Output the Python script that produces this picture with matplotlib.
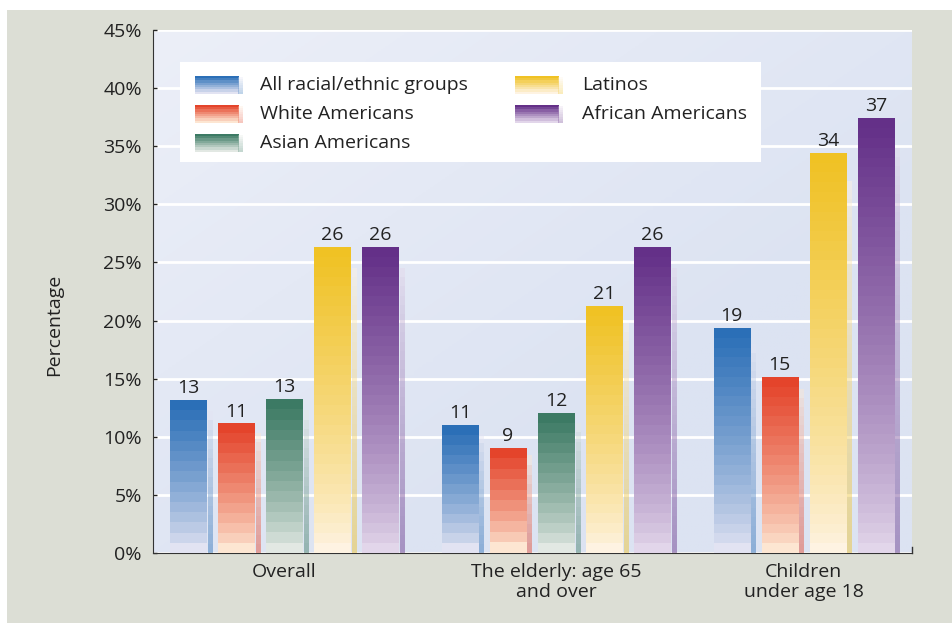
import numpy as np
import matplotlib.pyplot as plt
from matplotlib.colors import LinearSegmentedColormap
from matplotlib.patches import Rectangle

plt.rcParams['font.family'] = ['Open Sans', 'DejaVu Sans']

groups = ['Overall', 'The elderly: age 65\nand over', 'Children\nunder age 18']
series = ['All racial/ethnic groups', 'White Americans', 'Asian Americans',
          'Latinos', 'African Americans']
overall = [13.1, 11.1, 13.2, 26.3, 26.3]
elderly = [11.0, 9.0, 12.0, 21.2, 26.3]
children = [19.3, 15.1, np.nan, 34.4, 37.4]
yticks = [0, 5, 10, 15, 20, 25, 30, 35, 40, 45]

# top colour, pale bottom colour for each series
tops = ['#2b6fb7', '#e4442b', '#3c7a64', '#f0c224', '#643088']
pales = ['#e2e3f2', '#fde6d2', '#e2e8e3', '#fef3e2', '#e2d6ea']

fig = plt.figure(figsize=(9.52, 6.23), dpi=100, facecolor='white')
fig.patches.append(Rectangle((7 / 952, 0), 1, 613 / 623, transform=fig.transFigure,
                             facecolor='#dcded5', edgecolor='none', zorder=-10))
ax = fig.add_axes([153 / 952, 70 / 623, 759 / 952, 523 / 623])
ax.set_facecolor('#dfe5f3')

# soft background gradient
gx, gy = np.meshgrid(np.linspace(0, 1, 200), np.linspace(0, 1, 200))
bg = np.clip(0.6 * (1 - gx) + 0.6 * (1 - gy) - 0.4, 0, 1)
bg_cmap = LinearSegmentedColormap.from_list('bg', ['#dce3f2', '#eceff8'])
ax.imshow(bg, cmap=bg_cmap, extent=[0, 1, 0, 1], transform=ax.transAxes,
          aspect='auto', origin='upper', zorder=0)

gap = 0.65
xlim = (-0.73, 2 * (5 + gap) + 3 + 0.75)
ax.set_xlim(*xlim)
ax.set_ylim(0, 45)

for y in yticks:
    ax.axhline(y, color='white', lw=2, zorder=1)

width = 0.75
data = [overall, elderly, children]
centers = []
start = 0
for vals in data:
    xs = []
    pos = start
    for i, v in enumerate(vals):
        if np.isnan(v):
            continue
        cmap = LinearSegmentedColormap.from_list('c%d' % i, [pales[i], tops[i]])
        n = max(int(v * 1.2), 6)
        grad = np.linspace(0, 1, n)[::-1].reshape(-1, 1) ** 0.8
        ax.imshow(grad, cmap=cmap, extent=[pos - width / 2, pos + width / 2, 0, v],
                  aspect='auto', interpolation='nearest', zorder=3)
        # side face
        ax.imshow(grad[::-1], cmap=cmap, extent=[pos + width / 2 + 0.03, pos + width / 2 + 0.13, 0, v * 0.93],
                  aspect='auto', interpolation='nearest', zorder=2, alpha=0.45)
        ax.text(pos, v + 0.3, str(int(round(v))), ha='center', va='bottom',
                fontsize=14, color='#222222', zorder=4)
        xs.append(pos)
        pos += 1
    centers.append((xs[0] + xs[-1]) / 2)
    start = pos + gap

ax.set_xlim(*xlim)
ax.set_ylim(0, 45)
ax.set_xticks(centers)
ax.set_xticklabels(groups, fontsize=14, color='#222222', linespacing=1.15)
ax.tick_params(axis='x', length=0, pad=7)
ax.set_yticks(yticks)
ax.set_yticklabels(['%d%%' % y for y in yticks], fontsize=14, color='#222222')
ax.tick_params(axis='y', direction='in', length=3, width=1, color='#222222', pad=8)
ax.set_ylabel('Percentage', fontsize=14, color='#222222')
ax.yaxis.set_label_coords(-0.118, 0.436)

for s in ['top', 'right']:
    ax.spines[s].set_visible(False)
ax.spines['left'].set_color('#333333')
ax.spines['bottom'].set_color('#333333')
ax.plot([1, 1], [0, 0.012], transform=ax.transAxes, color='#333333', lw=1, clip_on=False)

# legend
ax.add_patch(Rectangle((0.0356, 0.748), 0.766, 0.191, transform=ax.transAxes,
                       facecolor='white', edgecolor='none', zorder=5))
rows = [0.895, 0.839, 0.784]
cols = [(0.0553, 0.141), (0.477, 0.565)]
for i, name in enumerate(series):
    px, tx = cols[i // 3]
    ry = rows[i % 3]
    cmap = LinearSegmentedColormap.from_list('l%d' % i, [pales[i], tops[i]])
    grad = np.linspace(0, 1, 8)[::-1].reshape(-1, 1)
    ax.imshow(grad, cmap=cmap, extent=[px, px + 0.057, ry - 0.017, ry + 0.017],
              transform=ax.transAxes, aspect='auto', interpolation='nearest', zorder=6)
    ax.imshow(grad[::-1], cmap=cmap, extent=[px + 0.057, px + 0.063, ry - 0.017, ry + 0.014],
              transform=ax.transAxes, aspect='auto', interpolation='nearest', zorder=6, alpha=0.3)
    ax.text(tx, ry, name, transform=ax.transAxes, fontsize=14, color='#222222',
            va='center', ha='left', zorder=7)

ax.set_xlim(*xlim)
ax.set_ylim(0, 45)
fig.savefig('out.png', dpi=100, facecolor=fig.get_facecolor())
